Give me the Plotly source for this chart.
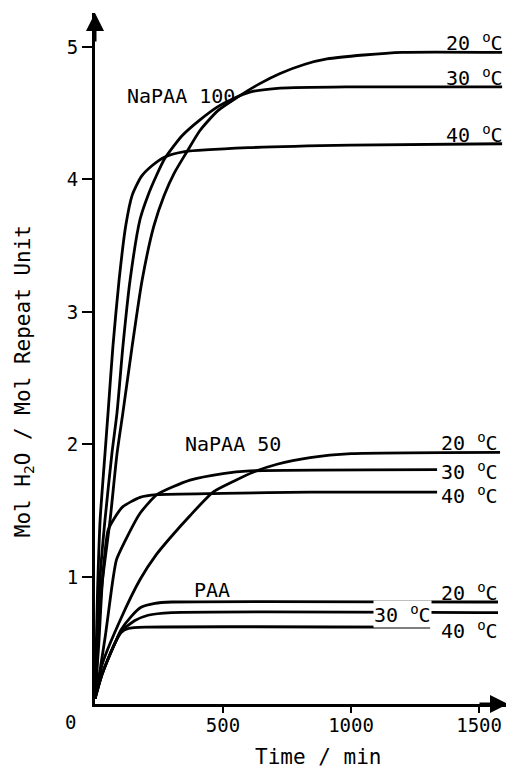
import plotly.graph_objects as go

# ---------------- data (time in min, value in mol H2O / mol repeat unit) ----------------
# NaPAA 100
t_n100_20 = [0, 25, 59, 86, 109, 145, 184, 230, 270, 310, 359, 410, 480, 555, 640, 723, 820, 906, 1050, 1200, 1590]
v_n100_20 = [0.08, 0.9, 1.43, 1.93, 2.24, 2.74, 3.24, 3.65, 3.88, 4.05, 4.21, 4.37, 4.52, 4.62, 4.72, 4.80, 4.87, 4.91, 4.94, 4.96, 4.96]
t_n100_30 = [0, 20, 39, 66, 86, 109, 137, 176, 207, 240, 273, 340, 410, 480, 539, 605, 723, 1000, 1590]
v_n100_30 = [0.08, 1.0, 1.43, 1.93, 2.24, 2.74, 3.24, 3.70, 3.88, 4.03, 4.16, 4.33, 4.45, 4.55, 4.61, 4.66, 4.69, 4.70, 4.70]
t_n100_40 = [0, 10, 20, 39, 51, 70, 94, 120, 145, 180, 220, 273, 350, 600, 1000, 1590]
v_n100_40 = [0.08, 0.9, 1.43, 1.93, 2.24, 2.74, 3.24, 3.65, 3.88, 4.02, 4.10, 4.17, 4.21, 4.24, 4.26, 4.27]

# NaPAA 50
t_n50_20 = [0, 30, 100, 176, 240, 305, 370, 461, 540, 617, 711, 840, 1000, 1582]
v_n50_20 = [0.08, 0.35, 0.68, 0.98, 1.17, 1.32, 1.46, 1.64, 1.72, 1.79, 1.85, 1.90, 1.93, 1.94]
t_n50_30 = [0, 20, 40, 70, 84, 125, 176, 242, 371, 500, 605, 1336]
v_n50_30 = [0.08, 0.30, 0.55, 0.98, 1.13, 1.30, 1.48, 1.62, 1.73, 1.78, 1.80, 1.81]
t_n50_40 = [0, 15, 30, 51, 78, 109, 176, 242, 500, 840, 1336]
v_n50_40 = [0.08, 0.5, 1.0, 1.35, 1.45, 1.53, 1.60, 1.62, 1.63, 1.64, 1.64]

# PAA
t_paa_20 = [0, 25, 51, 78, 102, 141, 180, 234, 300, 1574]
v_paa_20 = [0.08, 0.25, 0.38, 0.50, 0.60, 0.70, 0.77, 0.80, 0.81, 0.81]
t_paa_30 = [0, 25, 51, 78, 102, 156, 207, 300, 1574]
v_paa_30 = [0.08, 0.25, 0.38, 0.50, 0.59, 0.67, 0.71, 0.73, 0.73]
t_paa_40 = [0, 25, 51, 78, 102, 130, 200, 1309]
v_paa_40 = [0.08, 0.25, 0.38, 0.50, 0.58, 0.61, 0.62, 0.62]

x_ticks = [500, 1000, 1500]
y_ticks = [1, 2, 3, 4, 5]

X_MAX = 1613
Y_MIN, Y_MAX = 0.04, 5.257
FONT = "DejaVu Sans Mono"
FS_TICK = 19
FS_LAB = 20
FS_TITLE = 21

series = [
    (t_n100_20, v_n100_20), (t_n100_30, v_n100_30), (t_n100_40, v_n100_40),
    (t_n50_20, v_n50_20), (t_n50_30, v_n50_30), (t_n50_40, v_n50_40),
    (t_paa_20, v_paa_20), (t_paa_30, v_paa_30), (t_paa_40, v_paa_40),
]

fig = go.Figure()
for t, v in series:
    fig.add_trace(go.Scatter(x=t, y=v, mode="lines",
                             line=dict(color="black", width=2.8, shape="spline", smoothing=0.6),
                             showlegend=False, hoverinfo="skip"))

deg = "<sup>o</sup>C"
ann = []
# temperature labels  (x, y, text, yanchor, yshift, bg)
labels = [
    (1367, v_n100_20[-1], "20 " + deg, "bottom", -4, None),
    (1367, v_n100_30[-1], "30 " + deg, "bottom", -4, None),
    (1367, v_n100_40[-1], "40 " + deg, "bottom", -4, None),
    (1348, v_n50_20[-1], "20 " + deg, "bottom", -4, None),
    (1348, v_n50_30[-1], "30 " + deg, "middle", -1, None),
    (1348, v_n50_40[-1], "40 " + deg, "middle", -3, None),
    (1348, v_paa_20[-1], "20 " + deg, "bottom", -4, None),
    (1086, v_paa_30[-1], "30 " + deg, "middle", -1, "white"),
    (1348, v_paa_40[-1], "40 " + deg, "middle", -3, None),
]
for x, y, txt, ya, ys, bg in labels:
    d = dict(x=x, y=y, xref="x", yref="y", text=txt, showarrow=False, yshift=ys,
             xanchor="left", yanchor=ya, font=dict(family=FONT, size=FS_LAB, color="black"),
             borderpad=0)
    if bg:
        d["bgcolor"] = bg
    ann.append(d)

# material labels
ann.append(dict(x=336, y=4.63, xref="x", yref="y", text="NaPAA 100", showarrow=False,
                xanchor="center", yanchor="middle", font=dict(family=FONT, size=FS_LAB, color="black")))
ann.append(dict(x=539, y=2.00, xref="x", yref="y", text="NaPAA 50", showarrow=False,
                xanchor="center", yanchor="middle", font=dict(family=FONT, size=FS_LAB, color="black")))
ann.append(dict(x=457, y=0.90, xref="x", yref="y", text="PAA", showarrow=False,
                xanchor="center", yanchor="middle", font=dict(family=FONT, size=FS_LAB, color="black")))

# axis titles and origin label
ann.append(dict(x=-0.172, y=0.467, xref="paper", yref="paper", text="Mol H<sub>2</sub>O / Mol Repeat Unit",
                textangle=-90, showarrow=False, xanchor="center", yanchor="middle",
                font=dict(family=FONT, size=FS_TITLE, color="black")))
ann.append(dict(x=0.540, y=-0.077, xref="paper", yref="paper", text="Time / min",
                showarrow=False, xanchor="center", yanchor="middle",
                font=dict(family=FONT, size=FS_TITLE, color="black")))
ann.append(dict(x=-0.0605, y=-0.026, xref="paper", yref="paper", text="0",
                showarrow=False, xanchor="center", yanchor="middle",
                font=dict(family=FONT, size=FS_TICK, color="black")))

# arrow heads on axes
ann.append(dict(x=0, y=Y_MAX, xref="x", yref="y", ax=0, ay=30,
                text="", showarrow=True, arrowhead=2, arrowsize=1.2, arrowwidth=3, arrowcolor="black"))
ann.append(dict(x=X_MAX, y=Y_MIN, xref="x", yref="y", ax=-30, ay=0,
                text="", showarrow=True, arrowhead=2, arrowsize=1.2, arrowwidth=3, arrowcolor="black"))

# the page body has an 8 px margin, so the figure is drawn 8 px right and down
fig.update_layout(
    width=506, height=766,
    margin=dict(l=87, r=6, t=5, b=70),
    paper_bgcolor="white", plot_bgcolor="white",
    font=dict(family=FONT, size=FS_TICK, color="black"),
    annotations=ann,
    showlegend=False,
)
fig.update_xaxes(range=[0, X_MAX], tickvals=x_ticks, ticktext=[str(v) for v in x_ticks],
                 showline=True, linecolor="black", linewidth=3, ticks="outside", ticklen=6,
                 tickwidth=2, tickcolor="black", showgrid=False, zeroline=False,
                 ticklabelstandoff=-4,
                 tickfont=dict(family=FONT, size=FS_TICK, color="black"))
fig.update_yaxes(range=[Y_MIN, Y_MAX], tickvals=y_ticks, ticktext=[str(v) for v in y_ticks],
                 showline=True, linecolor="black", linewidth=3, ticks="outside", ticklen=10,
                 tickwidth=2, tickcolor="black", showgrid=False, zeroline=False,
                 tickfont=dict(family=FONT, size=FS_TICK, color="black"))

fig.write_html("out.html")
